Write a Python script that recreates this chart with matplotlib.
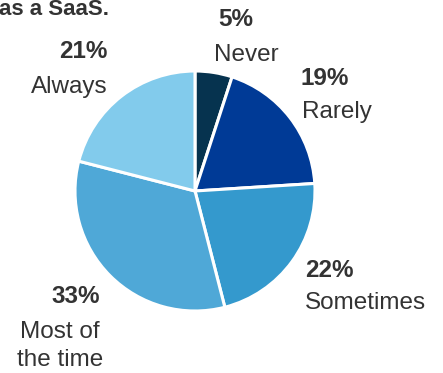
import matplotlib.pyplot as plt

# data
labels = ['Never', 'Rarely', 'Sometimes', 'Most of\nthe time', 'Always']
values = [5, 19, 22, 33, 21]
colors = ['#06334f', '#003a96', '#3499cd', '#4fa8d7', '#82cbec']

plt.rcParams['font.family'] = ['Liberation Sans', 'DejaVu Sans']

W, H = 443, 373
fig = plt.figure(figsize=(W/100, H/100), dpi=100)
cx, cy, r = 195, 191, 120
ax = fig.add_axes([(cx-r)/W, (H-cy-r)/H, 2*r/W, 2*r/H])
ax.pie(values, colors=colors, startangle=90, counterclock=False,
       wedgeprops=dict(edgecolor='white', linewidth=2.2))
ax.set_xlim(-1, 1)
ax.set_ylim(-1, 1)
ax.set_aspect('equal')
ax.axis('off')

# label positions in data units (pie radius 1): x_pct, y_pct, x_lab, y_lab
pos = [(0.19, 1.43, 0.16, 1.13, 'left'),
       (0.875, 0.94, 0.89, 0.66, 'left'),
       (0.92, -0.66, 0.92, -0.93, 'left'),
       (-0.79, -0.88, -0.767, -1.29, 'right'),
       (-0.73, 1.16, -0.73, 0.87, 'right')]
for v, lab, (xp, yp, xl, yl, ha) in zip(values, labels, pos):
    ax.text(xp, yp, f'{v}%', ha=ha, va='center', fontsize=17.5,
            fontweight='bold', color='#333333', clip_on=False)
    ax.text(xl, yl, lab, ha=ha, va='center', multialignment='center',
            fontsize=17.5, color='#333333', linespacing=1.38, clip_on=False)

fig.text(-0.003, (H-15)/H, 'as a SaaS.', ha='left', va='baseline',
         fontsize=16, fontweight='bold', color='#333333')

fig.savefig('out.png', dpi=100)
